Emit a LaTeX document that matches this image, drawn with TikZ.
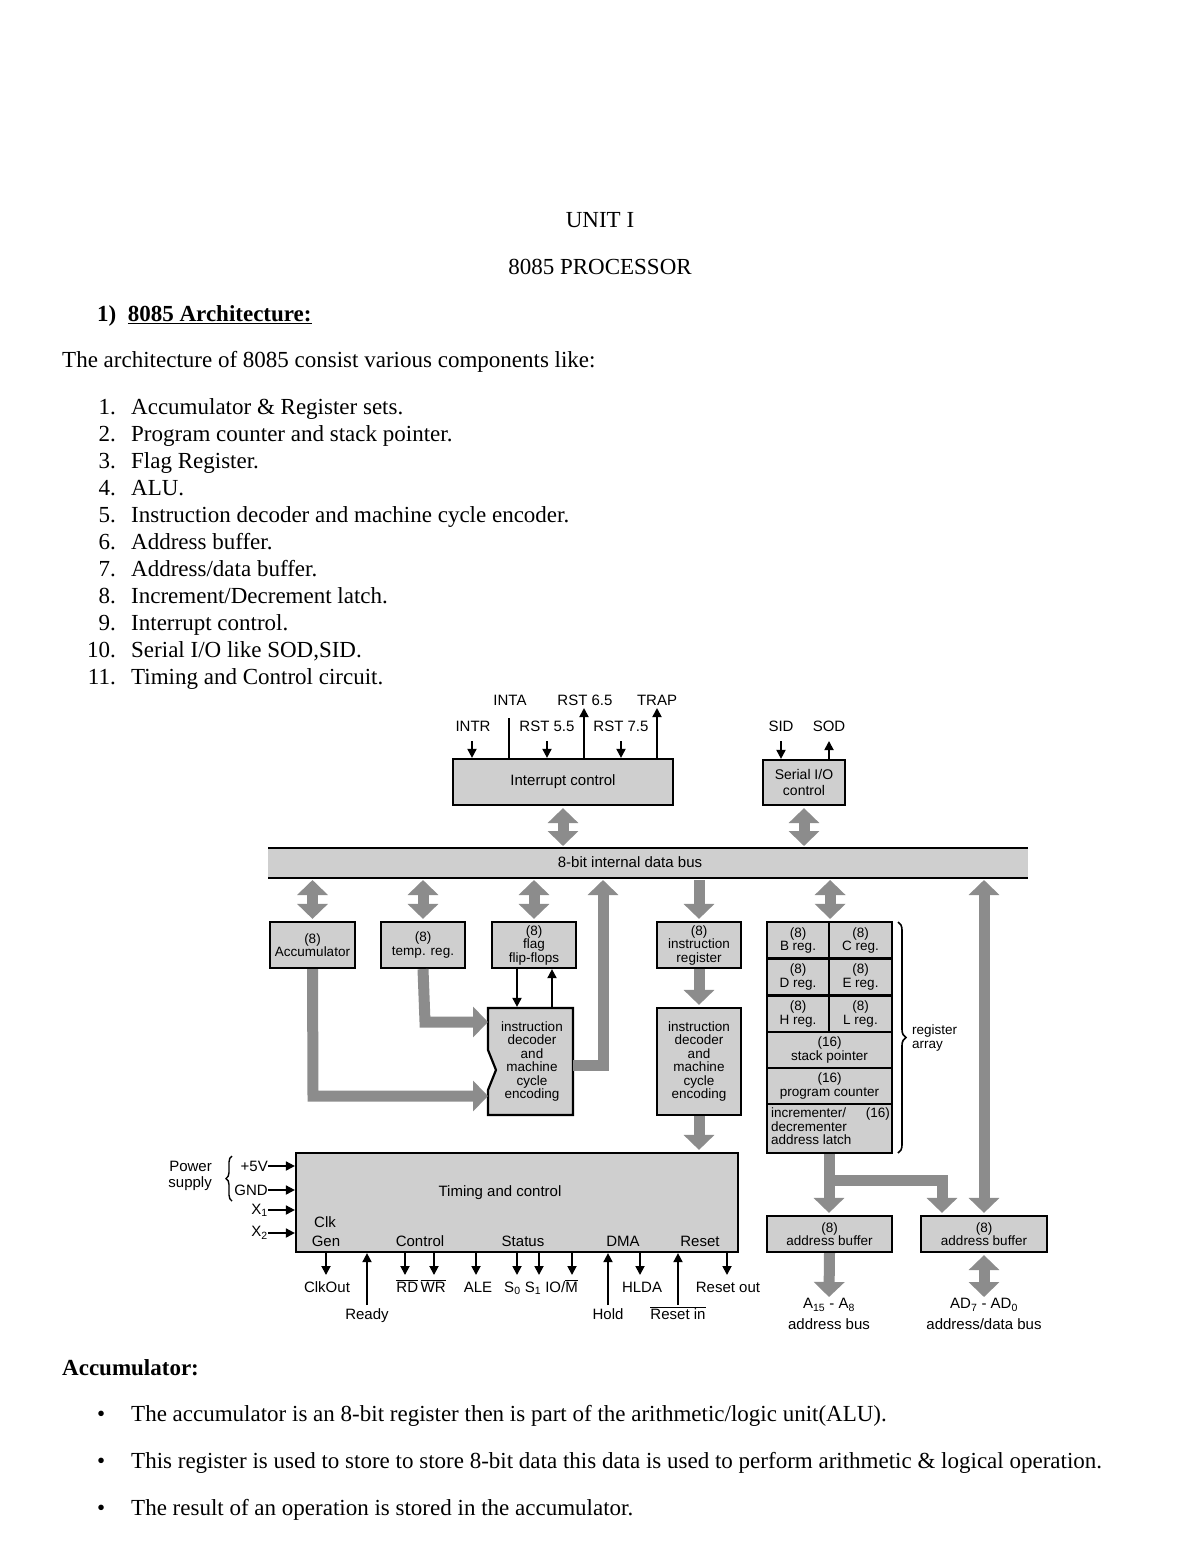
\documentclass[tikz,border=0pt]{standalone}
\usepackage{fontspec}
\setmainfont{Liberation Serif}
\newfontfamily\dsans{Liberation Sans}
\usetikzlibrary{arrows.meta,calc,decorations.pathreplacing}
\newcommand\ovl[1]{\ensuremath{\overline{\mbox{#1}}}}
\begin{document}
\begin{tikzpicture}[x=1pt,y=-1pt,
  doc/.style={anchor=base west,inner sep=0pt,font=\fontsize{23}{25}\selectfont},
  box/.style={draw,line width=2.2pt,fill=black!19,inner sep=0pt,align=center,font=\dsans\fontsize{13.5}{13.5}\selectfont},
  lab/.style={inner sep=0pt,font=\dsans\fontsize{15}{16}\selectfont,align=center},
  fat/.style={draw=black!45,line width=11pt},
  fh/.style={-{Triangle[width=30pt,length=15pt]}},
  fhh/.style={{Triangle[width=30pt,length=15pt]}-{Triangle[width=30pt,length=15pt]}},
  sa/.style={line width=1.8pt,-{Triangle[width=9pt,length=9pt]}},
  sl/.style={line width=1.8pt}]
\useasboundingbox (0,0) rectangle (1200,1553);
\fill[white] (0,0) rectangle (1200,1553);
% document text
\node[doc,anchor=base] (t1) at (600,227) {UNIT I};
\node[doc,anchor=base] (t2) at (600,274) {8085 PROCESSOR};
\node[doc] (t3) at (97,321) {\textbf{1)\enspace\underline{8085 Architecture:}}};
\node[doc] (t4) at (62,367) {The architecture of 8085 consist various components like:};
\newcommand\litem[3]{\node[doc,anchor=base east] (n#1) at (116,#2) {#1.};\node[doc] (l#1) at (131,#2) {#3};}
\litem{1}{414}{Accumulator \& Register sets.}
\litem{2}{441}{Program counter and stack pointer.}
\litem{3}{468}{Flag Register.}
\litem{4}{495}{ALU.}
\litem{5}{522}{Instruction decoder and machine cycle encoder.}
\litem{6}{549}{Address buffer.}
\litem{7}{576}{Address/data buffer.}
\litem{8}{603}{Increment/Decrement latch.}
\litem{9}{630}{Interrupt control.}
\litem{10}{657}{Serial I/O like SOD,SID.}
\litem{11}{684}{Timing and Control circuit.}
\node[doc] (acct) at (62,1375) {\textbf{Accumulator:}};
\newcommand\bitem[3]{\node[doc] (b#1) at (97,#2) {\textbullet};\node[doc] (bt#1) at (131,#2) {#3};}
\bitem{0}{1421}{The accumulator is an 8-bit register then is part of the arithmetic/logic unit(ALU).}
\bitem{1}{1468}{This register is used to store to store 8-bit data this data is used to perform arithmetic \& logical operation.}
\bitem{2}{1515}{The result of an operation is stored in the accumulator.}
% ---------- diagram ----------
\node[box,minimum width=220pt,minimum height=46pt,font=\dsans\fontsize{15}{16}\selectfont] (ic) at (563,782) {Interrupt control};
\node[box,minimum width=82pt,minimum height=45pt,font=\dsans\fontsize{14}{16}\selectfont] (sio) at (804,782.5) {Serial I/O\\control};
\node[box,line width=2pt,minimum width=760pt,minimum height=30pt,draw=none] (bus) at (648,863) {};
\draw[line width=2pt] (268,848) -- (1028,848) (268,878) -- (1028,878);
\node[lab] (bust) at (630,862) {8-bit internal data bus};
% interrupt labels
\node[lab] (inta) at (510,700) {INTA};
\node[lab] (r65) at (585,700) {RST 6.5};
\node[lab] (trap) at (657,700) {TRAP};
\node[lab] (intr) at (473,726) {INTR};
\node[lab] (r55) at (547,726) {RST 5.5};
\node[lab] (r75) at (621,726) {RST 7.5};
\coordinate (cintr) at (472,741);
\draw[sa] (cintr) -- (cintr |- ic.north);
\coordinate (cinta) at (509,718);
\draw[sl] (cinta) -- (cinta |- ic.north);
\coordinate (c55) at (547,741);
\draw[sa] (c55) -- (c55 |- ic.north);
\coordinate (c65) at (584,708);
\draw[sa] (c65 |- ic.north) -- (c65);
\coordinate (c75) at (621,741);
\draw[sa] (c75) -- (c75 |- ic.north);
\coordinate (ctrap) at (657,708);
\draw[sa] (ctrap |- ic.north) -- (ctrap);
\node[lab] (sid) at (781,726) {SID};
\node[lab] (sod) at (829,726) {SOD};
\coordinate (csid) at (781,741);
\draw[sa] (csid) -- (csid |- sio.north);
\coordinate (csod) at (829,741);
\draw[sa] (csod |- sio.north) -- (csod);
\draw[fat,fhh] ($(ic.south)+(0,2)$) -- ($(ic.south |- bus.north)+(0,-1)$);
\draw[fat,fhh] ($(sio.south)+(0,2)$) -- ($(sio.south |- bus.north)+(0,-1)$);
% blocks
\node[box,minimum width=85pt,minimum height=46pt] (acc) at (312.5,945) {(8)\\Accumulator};
\node[box,minimum width=84pt,minimum height=46pt] (temp) at (423,945) {(8)\\temp. reg.};
\node[box,minimum width=84pt,minimum height=46pt] (flag) at (534,945) {(8)\\flag\\flip-flops};
\node[box,minimum width=84pt,minimum height=46pt] (ir) at (699,945) {(8)\\instruction\\register};
\draw[line width=2.2pt,fill=black!19] (488,1008) -- (573,1008) -- (573,1115) -- (488,1115) -- (488,1090) -- (496,1070) -- (488,1050) -- cycle;
\node[box,draw=none,fill=none,minimum width=85pt,minimum height=107pt] (dec1) at (532,1061.5) {instruction\\decoder\\and\\machine\\cycle\\encoding};
\node[box,minimum width=84pt,minimum height=107pt] (dec2) at (699,1061.5) {instruction\\decoder\\and\\machine\\cycle\\encoding};
\foreach \b in {acc,temp,flag}{
  \draw[fat,fhh] ($(\b.north |- bus.south)+(0,1)$) -- ($(\b.north)+(0,-2)$);
}
\draw[fat,fh] ($(ir.north |- bus.south)+(0,1)$) -- ($(ir.north)+(0,-2)$);
\draw[fat,fh] (ir.south) -- ($(dec2.north)+(0,-2)$);
\coordinate (fd) at (517,0);
\draw[sa] (fd |- flag.south) -- (fd |- dec1.north);
\coordinate (fu) at (552,0);
\draw[sa] (fu |- dec1.north) -- (fu |- flag.south);
\coordinate (tk) at (425,1022);
\draw[fat,fh,line join=miter] (temp.south) -- (tk) -- (488,1022);
\coordinate (ak) at (313,1096);
\draw[fat,fh,line join=miter] (acc.south) -- (ak) -- (488,1096);
\coordinate (dk) at (603,1065);
\draw[fat,fh,line join=miter] (573,1065) -- (dk) -- ($(dk |- bus.south)+(0,1)$);
% register array
\node[box,minimum width=62pt,minimum height=36.5pt] (breg) at (798,940.25) {(8)\\B reg.};
\node[box,minimum width=63pt,minimum height=36.5pt] (creg) at (860.5,940.25) {(8)\\C reg.};
\node[box,minimum width=62pt,minimum height=37pt] (dreg) at (798,977) {(8)\\D reg.};
\node[box,minimum width=63pt,minimum height=37pt] (ereg) at (860.5,977) {(8)\\E reg.};
\node[box,minimum width=62pt,minimum height=37pt] (hreg) at (798,1014) {(8)\\H reg.};
\node[box,minimum width=63pt,minimum height=37pt] (lreg) at (860.5,1014) {(8)\\L reg.};
\node[box,minimum width=125pt,minimum height=36pt] (sp) at (829.5,1050) {(16)\\stack pointer};
\node[box,minimum width=125pt,minimum height=36pt] (pc) at (829.5,1086) {(16)\\program counter};
\node[box,minimum width=125pt,minimum height=49pt,align=left] (idl) at (829.5,1128.5) {};
\node[box,draw=none,fill=none,align=left,anchor=north west] (idlt) at (770,1107) {incrementer/\\decrementer\\address latch};
\node[box,draw=none,fill=none,anchor=north east] (idl16) at (891,1107) {(16)};
\draw[line width=1.6pt,decorate,decoration={brace,amplitude=8pt}] (898,922) -- (898,1153);
\node[lab,align=left,anchor=west,font=\dsans\fontsize{13.5}{14}\selectfont] (ra) at (912,1038) {register\\array};
\draw[fat,fhh] ($(breg.north east |- bus.south)+(0,1)$) -- ($(breg.north east)+(0,-2)$);
\node[box,minimum width=125pt,minimum height=36pt] (ab1) at (829.5,1234) {(8)\\address buffer};
\node[box,minimum width=126pt,minimum height=36pt] (ab2) at (984,1234) {(8)\\address buffer};
\coordinate (rk) at (829,1180);
\coordinate (rk2) at (942,1180);
\draw[fat,line join=miter] (idl.south -| rk) -- (rk) -- (rk2);
\draw[fat,fh] (rk) -- ($(rk |- ab1.north)+(0,-2)$);
\draw[fat,fh,line join=miter] ($(rk)+(0,0)$) -- (rk2) -- ($(rk2 |- ab2.north)+(0,-2)$);
\draw[fat,fhh] ($(ab2.north |- bus.south)+(0,1)$) -- ($(ab2.north)+(0,-2)$);
\coordinate (ob1) at (829,1297);
\coordinate (ob2) at (984,1297);
\draw[fat,fh] (ab1.south) -- (ob1);
\draw[fat,fhh] ($(ab2.south)+(0,2)$) -- (ob2);
\node[lab] (a15) at (829,1305) {A\textsubscript{15} - A\textsubscript{8}};
\node[lab] (ab) at (829,1324) {address bus};
\node[lab] (ad7) at (984,1305) {AD\textsubscript{7} - AD\textsubscript{0}};
\node[lab] (adb) at (984,1324) {address/data bus};
% timing and control
\node[box,minimum width=442pt,minimum height=99pt] (tc) at (517,1202.5) {};
\draw[fat,fh] (dec2.south) -- ($(dec2.south |- tc.north)+(0,-2)$);
\node[lab] (tct) at (500,1193) {Timing and control};
\node[lab] (clk) at (325,1222) {Clk};
\node[lab] (gen) at (326,1241) {Gen};
\node[lab] (ctl) at (420,1241) {Control};
\node[lab] (sta) at (523,1241) {Status};
\node[lab] (dma) at (623,1241) {DMA};
\node[lab] (rst) at (700,1241) {Reset};
\foreach \y/\t/\nm in {1166/+5V/p5,1190/GND/gnd,1210/X\textsubscript{1}/x1,1233/X\textsubscript{2}/x2}{
  \node[lab,anchor=east] (\nm) at (268,\y) {\t};
  \draw[sa] (\nm.east) -- (\nm.east -| tc.west);
}
\draw[line width=1.4pt,decorate,decoration={brace,amplitude=6pt}] (232,1201) -- (232,1156);
\node[lab,align=right,anchor=east] (ps) at (212,1176) {Power\\supply};
\foreach \x/\nm in {326/co,405/rd,434/wr,476/ale,517/s0,539/s1,572/iom,640/hlda,727/ro}{
  \coordinate (\nm) at (\x,1275);
  \draw[sa] (\nm |- tc.south) -- (\nm);
}
\foreach \x/\nm in {367/rdy,608/hold,678/rin}{
  \coordinate (\nm) at (\x,1305);
  \draw[sa] (\nm) -- (\nm |- tc.south);
}
\node[lab,anchor=base] (lco) at (327,1292) {ClkOut};
\node[lab,anchor=base] (lrw) at (421,1292) {\ovl{RD}\,\ovl{WR}};
\node[lab,anchor=base] (lale) at (478,1292) {ALE};
\node[lab,anchor=base] (lst) at (541,1292) {S\textsubscript{0} S\textsubscript{1} IO/\ovl{M}};
\node[lab,anchor=base] (lhl) at (642,1292) {HLDA};
\node[lab,anchor=base] (lro) at (728,1292) {Reset out};
\node[lab,anchor=base] (lrdy) at (367,1319) {Ready};
\node[lab,anchor=base] (lhold) at (608,1319) {Hold};
\node[lab,anchor=base] (lrin) at (678,1319) {\ovl{Reset in}};
\end{tikzpicture}
\end{document}
